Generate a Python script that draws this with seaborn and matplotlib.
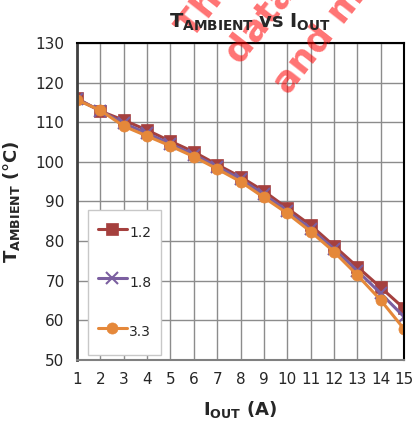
import matplotlib
matplotlib.use("Agg")
import matplotlib.pyplot as plt
import pandas as pd
import seaborn as sns

# Output current (A)
iout = [1, 2, 3, 4, 5, 6, 7, 8, 9, 10, 11, 12, 13, 14, 15]

# Ambient temperature (degC) for each output voltage
t_12 = [116.0, 112.8, 110.5, 108.0, 105.2, 102.5, 99.3, 96.2, 92.6, 88.3, 84.0, 78.8, 73.5, 68.3, 63.0]
t_18 = [115.8, 112.9, 109.7, 107.2, 104.5, 101.8, 98.8, 95.6, 91.8, 87.6, 83.1, 78.0, 72.5, 66.8, 60.9]
t_33 = [115.6, 113.0, 109.0, 106.5, 104.0, 101.3, 98.2, 95.0, 91.0, 87.0, 82.4, 77.3, 71.4, 65.1, 57.8]

series_names = ['1.2', '1.8', '3.3']
x_ticks = list(range(1, 16))
y_ticks = list(range(50, 131, 10))

df = pd.DataFrame({'iout': iout, '1.2': t_12, '1.8': t_18, '3.3': t_33})

sns.set_style("white")
plt.rcParams['font.family'] = ['DejaVu Sans']
plt.rcParams['mathtext.fontset'] = 'dejavusans'

fig = plt.figure(figsize=(4.14, 4.21), dpi=100)
ax = fig.add_axes([0.186, 0.145, 0.79, 0.753])

styles = {
    '1.2': dict(color='#A5403E', marker='s', markersize=8),
    '1.8': dict(color='#7B5FA0', marker='x', markersize=8, markeredgewidth=1.5),
    '3.3': dict(color='#E5883A', marker='o', markersize=8),
}
for name in series_names:
    st = styles[name]
    sns.lineplot(data=df, x='iout', y=name, ax=ax, label=name, linewidth=2.2,
                 color=st['color'], marker=st['marker'], markersize=st['markersize'],
                 markeredgewidth=st.get('markeredgewidth', 0.5),
                 markeredgecolor=st['color'])

ax.set_xlim(1, 15)
ax.set_ylim(50, 130)
ax.set_xticks(x_ticks)
ax.set_yticks(y_ticks)
ax.tick_params(axis='both', labelsize=11, direction='out', length=5,
               width=1, color='#808080', pad=4)
ax.grid(True, color='#8c8c8c', linewidth=1)
for s in ['top', 'right']:
    ax.spines[s].set_color('black')
    ax.spines[s].set_linewidth(1.5)
ax.spines['left'].set_color('#404040')
ax.spines['left'].set_linewidth(2)
ax.spines['bottom'].set_color('#808080')
ax.spines['bottom'].set_linewidth(1.5)

ax.set_xlabel(r'$\mathbf{I_{OUT}}$ (A)', fontsize=13, fontweight='bold', labelpad=8)
ax.set_ylabel(r'$\mathbf{T_{AMBIENT}}$ (°C)', fontsize=13, fontweight='bold', labelpad=10)

leg = ax.legend(loc='lower left', bbox_to_anchor=(0.034, 0.016), fontsize=10,
                labelspacing=1.7, handlelength=2.1, handleheight=2.5,
                handletextpad=0.15, borderpad=0.7, borderaxespad=0,
                fancybox=False, framealpha=1)
leg.get_frame().set_edgecolor('#c8c8c8')
# centre the labels on their handles
for col in leg._legend_handle_box.get_children():
    for row in col.get_children():
        row.align = 'center'

# watermark (drawn over the plot, under the title)
wm = dict(color='red', alpha=0.55, fontsize=26, fontweight='bold', rotation=52,
          rotation_mode='anchor', ha='left', va='baseline', zorder=4)
fig.text(192 / 414, 1 - 40 / 421, 'This is preliminary', **wm)
fig.text(240 / 414, 1 - 66 / 421, 'data subject', **wm)
fig.text(288 / 414, 1 - 96 / 421, 'and may change', **wm)

# title as figure text so it sits on top of the watermark
fig.text(250 / 414, 1 - 28 / 421,
         r'$\mathbf{T_{AMBIENT}}$ $\mathbf{vs}$ $\mathbf{I_{OUT}}$',
         fontsize=14, ha='center', va='baseline', zorder=5)

fig.savefig('out.png', dpi=100)
plt.close(fig)
